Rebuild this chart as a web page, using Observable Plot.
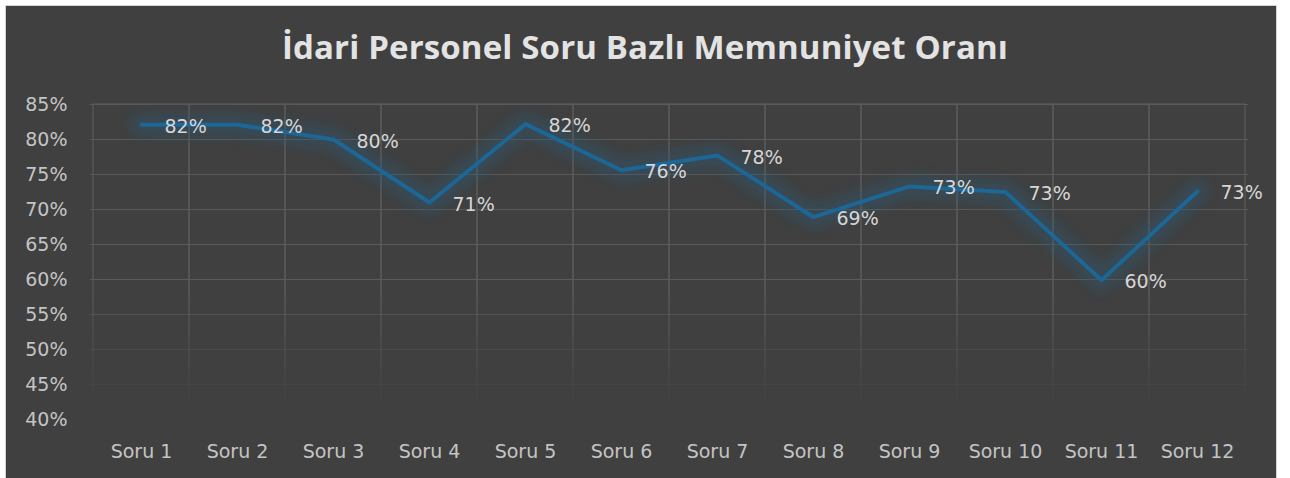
<!DOCTYPE html>
<html>
<head>
<meta charset="utf-8">
<script src="https://cdn.jsdelivr.net/npm/d3@7"></script>
<script src="https://cdn.jsdelivr.net/npm/@observablehq/plot@0.6"></script>
<style>
  html, body { margin: 0; padding: 0; background: #ffffff; width: 1290px; height: 478px; overflow: hidden; }
  #frame { position: absolute; left: 5px; top: 5px; width: 1272px; height: 490px; background: #404040; border: 1px solid #d4d4d4; box-sizing: border-box; }
  #title { position: absolute; left: 0; top: 27px; width: 1290px; text-align: center; font-family: "Open Sans", sans-serif; font-weight: 700; font-size: 33px; line-height: 40px; color: #e3e3e3; white-space: nowrap; }
  #chart { position: absolute; left: 0; top: 85px; }
</style>
</head>
<body>
<div id="frame"></div>
<div id="title">İdari Personel Soru Bazlı Memnuniyet Oranı</div>
<div id="chart"></div>
<script>
const titleText = "İdari Personel Soru Bazlı Memnuniyet Oranı";
const categories = ["Soru 1", "Soru 2", "Soru 3", "Soru 4", "Soru 5", "Soru 6", "Soru 7", "Soru 8", "Soru 9", "Soru 10", "Soru 11", "Soru 12"];
const values = [82.1, 82.1, 80.0, 71.0, 82.2, 75.6, 77.7, 68.9, 73.3, 72.5, 59.9, 72.6];
const valueLabels = ["82%", "82%", "80%", "71%", "82%", "76%", "78%", "69%", "73%", "73%", "60%", "73%"];
const yTicks = [40, 45, 50, 55, 60, 65, 70, 75, 80, 85];

const data = categories.map((c, i) => ({cat: c, value: values[i], label: valueLabels[i]}));

// fit title letter-spacing so the title spans about the same width as the reference
(function fitTitle() {
  const el = document.getElementById("title");
  const ctx = document.createElement("canvas").getContext("2d");
  ctx.font = "700 33px 'Open Sans'";
  const w = ctx.measureText(titleText).width;
  const target = 726;
  const ls = (target - w) / titleText.length;
  el.style.letterSpacing = Math.max(-1, Math.min(3, ls)).toFixed(2) + "px";
})();

const font = "'DejaVu Sans', sans-serif";
const chart = Plot.plot({
  width: 1290,
  height: 393,
  marginLeft: 90,
  marginRight: 42,
  marginTop: 19,
  marginBottom: 59,
  style: {background: "transparent", color: "#c4c4c4", fontFamily: font, fontSize: "19px"},
  x: {type: "band", domain: categories, padding: 0, label: null},
  y: {domain: [40, 85], label: null},
  marks: [
    Plot.cell(categories, {x: d => d, fill: "none", stroke: "#5a5a5a", strokeWidth: 1.2, inset: 0}),
    Plot.gridY(yTicks, {stroke: "#5a5a5a", strokeOpacity: 1, strokeWidth: 1.2}),
    Plot.axisY(yTicks, {tickSize: 0, tickPadding: 23, tickFormat: d => d + "%", fontSize: 19, fill: "#c4c4c4", label: null}),
    Plot.axisX({tickSize: 0, tickPadding: 25, fontSize: 19, fill: "#c4c4c4", label: null}),
    Plot.line(data, {x: "cat", y: "value", stroke: "#2a5a78", strokeWidth: 22, strokeOpacity: 0.4, strokeLinejoin: "round", strokeLinecap: "round"}),
    Plot.line(data, {x: "cat", y: "value", stroke: "#1c6795", strokeWidth: 4, strokeLinejoin: "miter"}),
    Plot.text(data, {x: "cat", y: "value", text: "label", textAnchor: "start", dx: 23, dy: 2, fontSize: 19, fill: "#d6d6d6"})
  ]
});
document.getElementById("chart").appendChild(chart);

// Fading grid and glow effect
const svg = d3.select(chart);
const defs = svg.insert("defs", ":first-child");
const grad = defs.append("linearGradient").attr("id", "fadeGrad")
  .attr("gradientUnits", "userSpaceOnUse").attr("x1", 0).attr("x2", 0).attr("y1", 19).attr("y2", 334);
grad.append("stop").attr("offset", 0.55).attr("stop-color", "#fff");
grad.append("stop").attr("offset", 0.97).attr("stop-color", "#000");
defs.append("mask").attr("id", "fadeMask").attr("maskUnits", "userSpaceOnUse")
  .attr("x", 0).attr("y", 0).attr("width", 1290).attr("height", 393)
  .append("rect").attr("x", 0).attr("y", 0).attr("width", 1290).attr("height", 393).attr("fill", "url(#fadeGrad)");
const blur = defs.append("filter").attr("id", "glow").attr("x", "-10%").attr("y", "-50%").attr("width", "120%").attr("height", "200%");
blur.append("feGaussianBlur").attr("stdDeviation", 6);

svg.selectAll('g[aria-label="cell"], g[aria-label="y-grid"]').attr("mask", "url(#fadeMask)");
const lines = svg.selectAll('g[aria-label="line"]').nodes();
if (lines.length) d3.select(lines[0]).attr("filter", "url(#glow)");
</script>
</body>
</html>
